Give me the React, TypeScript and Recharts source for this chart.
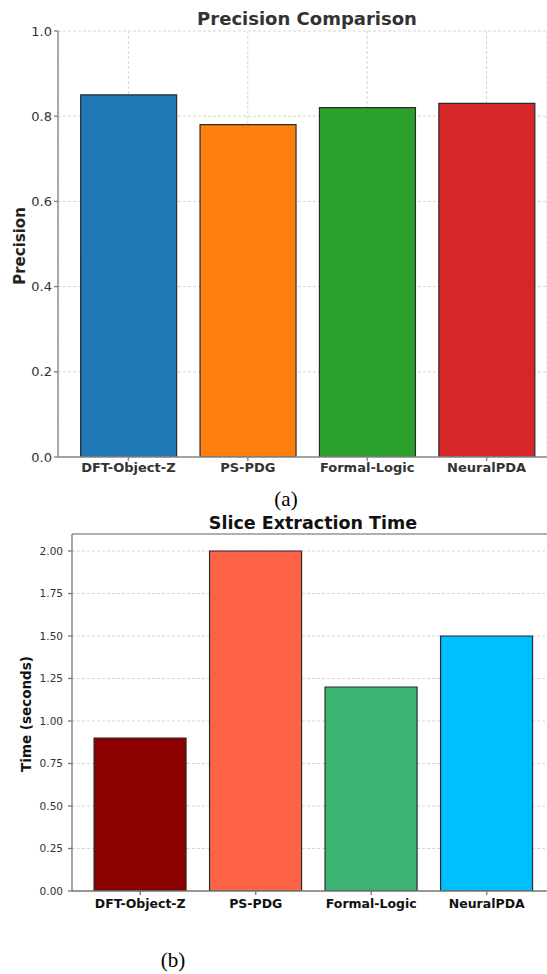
import React from 'react';
import { BarChart, Bar, XAxis, YAxis, CartesianGrid, Cell, ReferenceLine } from 'recharts';

const methods = ['DFT-Object-Z', 'PS-PDG', 'Formal-Logic', 'NeuralPDA'];
const precisionValues = [0.85, 0.78, 0.82, 0.83];
const timeValues = [0.9, 2.0, 1.2, 1.5];
const precisionColors = ['#1f77b4', '#ff7f0e', '#2ca02c', '#d62728'];
const timeColors = ['#8b0000', '#ff6347', '#3cb371', '#00bfff'];
const precisionTicks = [0, 0.2, 0.4, 0.6, 0.8, 1.0];
const timeTicks = [0, 0.25, 0.5, 0.75, 1.0, 1.25, 1.5, 1.75, 2.0];

const precisionData = methods.map((m, i) => ({ name: m, value: precisionValues[i] }));
const timeData = methods.map((m, i) => ({ name: m, value: timeValues[i] }));

const FONT = '"DejaVu Sans", sans-serif';
const SERIF = '"Liberation Serif", "DejaVu Serif", serif';

const abs = (style: React.CSSProperties): React.CSSProperties => ({ position: 'absolute', ...style });

export default function App() {
  return (
    <div style={{ position: 'absolute', left: 0, top: 0, width: 547, height: 974, background: '#fff', overflow: 'hidden' }}>
      {/* Chart (a) */}
      <div style={abs({ left: 0, top: 0 })}>
        <BarChart width={547} height={480} data={precisionData} margin={{ top: 31, right: 0, left: 0, bottom: 0 }} barCategoryGap="10%">
          <XAxis
            dataKey="name"
            height={23}
            padding={{ left: 10.7, right: 0.7 }}
            stroke="#888"
            strokeWidth={1.4}
            tickSize={4}
            tickMargin={2}
            tick={{ fill: '#333', fontSize: 13, fontWeight: 'bold', fontFamily: FONT }}
            interval={0}
          />
          <YAxis
            width={58}
            domain={[0, 1]}
            ticks={precisionTicks}
            tickFormatter={(v: number) => v.toFixed(1)}
            stroke="#888"
            strokeWidth={1.4}
            tickSize={4}
            tickMargin={2}
            tick={{ fill: '#333', fontSize: 13, fontFamily: FONT }}
            allowDataOverflow
          />
          <Bar dataKey="value" isAnimationActive={false} stroke="#2a2a2a" strokeWidth={1.2}>
            {precisionData.map((d, i) => (
              <Cell key={d.name} fill={precisionColors[i]} />
            ))}
          </Bar>
          <CartesianGrid stroke="#c8c8c8" strokeOpacity={0.75} strokeDasharray="3 2" />
        </BarChart>
      </div>
      <div style={abs({ left: 307, top: 18, transform: 'translate(-50%, -50%)', fontFamily: FONT, fontWeight: 'bold', fontSize: 18, color: '#333', whiteSpace: 'nowrap' })}>
        Precision Comparison
      </div>
      <div style={abs({ left: 20, top: 246, transform: 'translate(-50%, -50%) rotate(-90deg)', fontFamily: FONT, fontWeight: 'bold', fontSize: 15, color: '#222', whiteSpace: 'nowrap' })}>
        Precision
      </div>
      <div style={abs({ left: 286, top: 499, transform: 'translate(-50%, -50%)', fontFamily: SERIF, fontSize: 21, color: '#000', whiteSpace: 'nowrap' })}>
        (a)
      </div>

      {/* Chart (b) */}
      <div style={abs({ left: 0, top: 500 })}>
        <BarChart width={547} height={420} data={timeData} margin={{ top: 34, right: 0, left: 0, bottom: 0 }} barCategoryGap="10%">
          <CartesianGrid stroke="#d6d6d6" strokeDasharray="3 2" vertical={false} />
          <XAxis
            dataKey="name"
            height={29}
            padding={{ left: 10.5, right: 2.5 }}
            stroke="#777"
            strokeWidth={1.3}
            tickSize={4}
            tickMargin={4}
            tick={{ fill: '#111', fontSize: 12.5, fontWeight: 'bold', fontFamily: FONT }}
            interval={0}
          />
          <YAxis
            width={72}
            domain={[0, 2.1]}
            ticks={timeTicks}
            tickFormatter={(v: number) => v.toFixed(2)}
            stroke="#777"
            strokeWidth={1.3}
            tickSize={4}
            tickMargin={5}
            tick={{ fill: '#333', fontSize: 10.5, fontFamily: FONT }}
            allowDataOverflow
          />
          <ReferenceLine y={2.1} stroke="#999" strokeWidth={1.6} ifOverflow="visible" />
          <Bar dataKey="value" isAnimationActive={false} stroke="#2a2a2a" strokeWidth={1.2}>
            {timeData.map((d, i) => (
              <Cell key={d.name} fill={timeColors[i]} />
            ))}
          </Bar>
        </BarChart>
      </div>
      <div style={abs({ left: 313, top: 523, transform: 'translate(-50%, -50%)', fontFamily: FONT, fontWeight: 'bold', fontSize: 17.5, color: '#111', whiteSpace: 'nowrap' })}>
        Slice Extraction Time
      </div>
      <div style={abs({ left: 26, top: 714, transform: 'translate(-50%, -50%) rotate(-90deg)', fontFamily: FONT, fontWeight: 'bold', fontSize: 13.5, color: '#111', whiteSpace: 'nowrap' })}>
        Time (seconds)
      </div>
      <div style={abs({ left: 173, top: 960, transform: 'translate(-50%, -50%)', fontFamily: SERIF, fontSize: 21, color: '#000', whiteSpace: 'nowrap' })}>
        (b)
      </div>
    </div>
  );
}
